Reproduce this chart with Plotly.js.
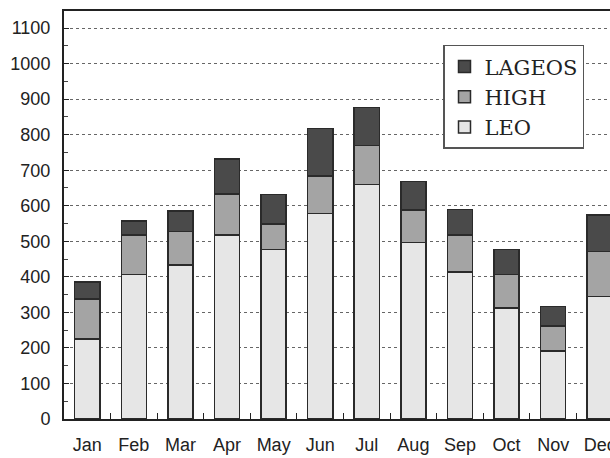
<!DOCTYPE html>
<html>
<head>
<meta charset="utf-8">
<script src="https://cdn.plot.ly/plotly-3.0.1.min.js"></script>
<style>
html,body{margin:0;padding:0;overflow:hidden;background:#fff;width:610px;height:458px;}
#chart{width:640px;height:458px;}
</style>
</head>
<body>
<div id="chart"></div>
<script>
const months = ['Jan','Feb','Mar','Apr','May','Jun','Jul','Aug','Sep','Oct','Nov','Dec'];
const leo    = [225, 407, 433, 518, 477, 578, 660, 497, 414, 313, 192, 344];
const high   = [113, 111,  94, 115,  71, 106, 109,  91, 104,  93,  70, 127];
const lageos = [ 48,  39,  58,  99,  84, 134, 108,  80,  72,  71,  54, 103];
const yTicks = [0,100,200,300,400,500,600,700,800,900,1000,1100];

const line = {color:'#2a2a2a', width:1.5};
const traces = [
  {type:'bar', name:'LEO', x:months, y:leo, marker:{color:'#e6e6e6', line:line}},
  {type:'bar', name:'HIGH', x:months, y:high, marker:{color:'#a4a4a4', line:line}},
  {type:'bar', name:'LAGEOS', x:months, y:lageos, marker:{color:'#4a4a4a', line:line}}
];

const tickFont = {family:'"Liberation Sans Narrow", "Liberation Sans", Arial, sans-serif', size:18, color:'#222'};

const layout = {
  width:640, height:458,
  margin:{l:64, r:17, t:11, b:39},
  paper_bgcolor:'#fff', plot_bgcolor:'#fff',
  barmode:'stack', bargap:0.46,
  showlegend:true,
  legend:{
    x:0.678, y:0.917, xanchor:'left', yanchor:'top',
    traceorder:'reversed',
    bgcolor:'#fff', bordercolor:'#555', borderwidth:1.5,
    font:{family:'"DejaVu Serif", "Liberation Serif", serif', size:21, color:'#222'}
  },
  xaxis:{
    type:'category', range:[-0.5, 11.5],
    showline:true, mirror:true, linecolor:'#222', linewidth:2,
    ticks:'inside', ticklen:6, tickcolor:'#222', tickson:'boundaries',
    showgrid:false, tickfont:tickFont, ticklabelstandoff:8
  },
  yaxis:{
    range:[0, 1148], tickvals:yTicks, ticktext:yTicks.map(String),
    showline:true, mirror:true, linecolor:'#222', linewidth:2,
    ticks:'inside', ticklen:5, tickcolor:'#222',
    minor:{dtick:50, ticks:'inside', ticklen:4, tickcolor:'#444', showgrid:false},
    showgrid:true, gridcolor:'#666', gridwidth:1, griddash:'dot',
    zeroline:false, tickfont:tickFont, ticklabelstandoff:8
  }
};

Plotly.newPlot('chart', traces, layout, {displayModeBar:false, staticPlot:true});
</script>
</body>
</html>
